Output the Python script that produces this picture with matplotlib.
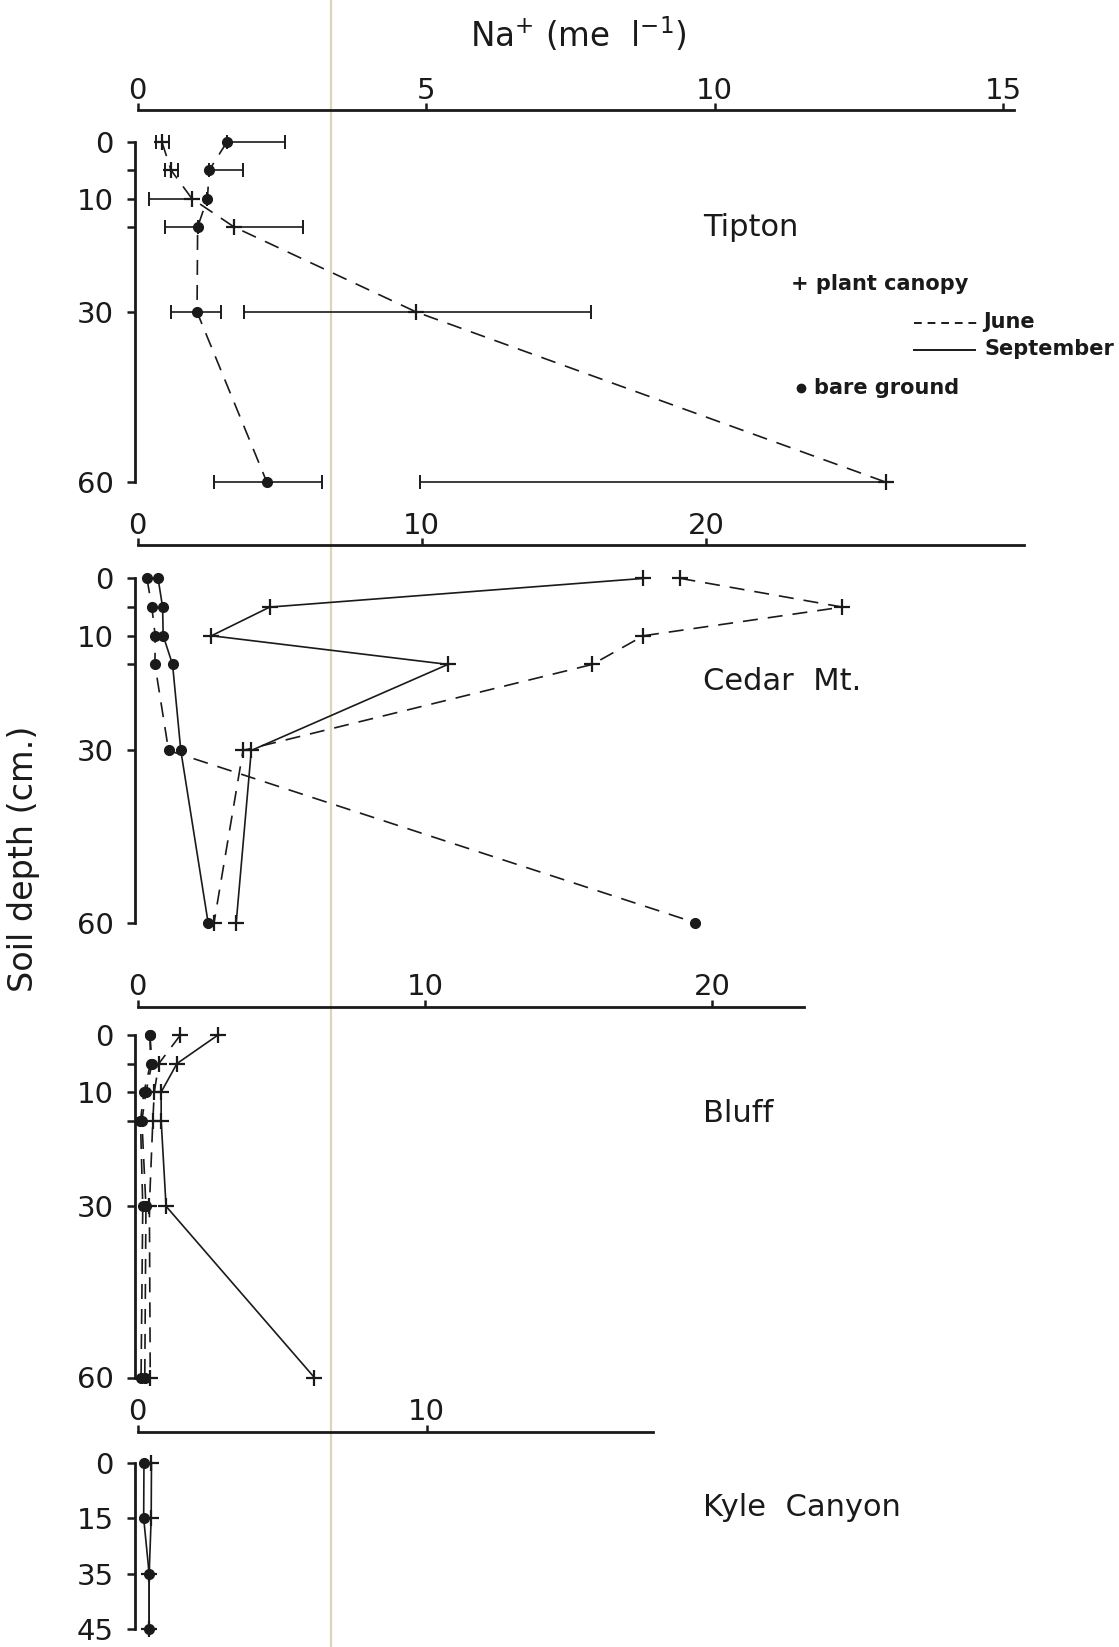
import numpy as np
import matplotlib
matplotlib.use('Agg')
import matplotlib.pyplot as plt

plt.rcParams['font.family'] = ['DejaVu Sans']
plt.rcParams['mathtext.default'] = 'regular'

W, H = 1119, 1647

# soil depths (cm)
depth = [0, 5, 10, 15, 30, 60]
kyle_depth = [0, 15, 35, 45]

# Tipton, June only (with error bars)
tip_canopy = [0.42, 0.58, 0.94, 1.67, 4.83, 12.97]
tip_canopy_lo = [0.10, 0.10, 0.74, 0.0, 2.99, 8.07]
tip_canopy_hi = [0.12, 0.12, 0.0, 1.19, 3.03, 0.0]
tip_bare = [1.55, 1.24, 1.21, 1.04, 1.03, 2.24]
tip_bare_lo = [0.0, 0.0, 0.0, 0.56, 0.45, 0.91]
tip_bare_hi = [1.0, 0.58, 0.0, 0.0, 0.42, 0.95]

# Cedar Mt.
ced_canopy_jun = [19.1, 24.8, 17.8, 16.0, 3.71, 2.69]
ced_canopy_sep = [17.8, 4.65, 2.6, 10.92, 4.0, 3.47]
ced_bare_jun = [0.33, 0.50, 0.62, 0.61, 1.09, 19.6]
ced_bare_sep = [0.72, 0.88, 0.90, 1.23, 1.52, 2.48]

# Bluff
blu_canopy_jun = [1.49, 0.74, 0.58, 0.53, 0.41, 0.44]
blu_canopy_sep = [2.8, 1.37, 0.82, 0.82, 0.99, 6.15]
blu_bare_jun = [0.43, 0.50, 0.29, 0.15, 0.29, 0.25]
blu_bare_sep = [0.43, 0.45, 0.22, 0.10, 0.18, 0.12]

# Kyle Canyon
kyl_canopy = [0.48, 0.47, 0.40, 0.40]
kyl_bare = [0.22, 0.21, 0.40, 0.40]

SPINE_X = 134.5
X0 = 137.6
JUNE = (0, (9, 6))
INK = '#1a1a1a'

fig = plt.figure(figsize=(W / 100, H / 100), dpi=100)

# backdrop: faint scan line and free text
ov = fig.add_axes([0, 0, 1, 1], zorder=0)
ov.set_xlim(0, W)
ov.set_ylim(H, 0)
ov.axis('off')
ov.plot([331, 331], [0, H], color='#ddd4bc', lw=1.6)


def make_ax(spine_y, d0_px, dmax_px, dmax, unit, x_end, xticks, yticks, ylabels):
    per = (dmax_px - d0_px) / dmax
    bottom_px = dmax_px + 8
    right_px = X0 + x_end * unit
    ax = fig.add_axes([SPINE_X / W, 1 - bottom_px / H,
                       (right_px - SPINE_X) / W, (bottom_px - spine_y) / H], zorder=2)
    ax.patch.set_alpha(0)
    ax.set_xlim((SPINE_X - X0) / unit, x_end)
    ax.set_ylim(dmax + 8 / per, -(d0_px - spine_y) / per)
    ax.spines['right'].set_visible(False)
    ax.spines['bottom'].set_visible(False)
    for s in ('top', 'left'):
        ax.spines[s].set_linewidth(2.0)
        ax.spines[s].set_color(INK)
    ax.spines['left'].set_bounds(0, dmax)
    ax.spines['top'].set_bounds(0, x_end)
    ax.xaxis.tick_top()
    ax.set_xticks(xticks)
    ax.set_xticklabels([str(t) for t in xticks])
    ax.set_yticks(yticks)
    ax.set_yticklabels(ylabels)
    ax.tick_params(axis='x', direction='out', length=5, width=1.8, pad=-1,
                   labelsize=21, colors=INK)
    ax.tick_params(axis='y', direction='out', length=6, width=1.8, pad=9,
                   labelsize=21, colors=INK)
    return ax


def canopy(ax, x, y, ls):
    ax.plot(x, y, ls=ls, color=INK, lw=1.2, marker='+', ms=11, mew=1.6,
            clip_on=False, zorder=3)


def bare(ax, x, y, ls):
    ax.plot(x, y, ls=ls, color=INK, lw=1.2, marker='o', ms=7,
            clip_on=False, zorder=3)


dticks = [0, 5, 10, 15, 30, 60]
dlabels = ['0', '', '10', '', '30', '60']

# Tipton
ax1 = make_ax(110.3, 141.8, 482.3, 60, 57.72, 15.18, [0, 5, 10, 15], dticks, dlabels)
canopy(ax1, tip_canopy, depth, JUNE)
bare(ax1, tip_bare, depth, JUNE)
ax1.errorbar(tip_canopy, depth, xerr=[tip_canopy_lo, tip_canopy_hi], fmt='none',
             ecolor=INK, elinewidth=1.2, capsize=5, capthick=1.4, clip_on=False)
ax1.errorbar(tip_bare, depth, xerr=[tip_bare_lo, tip_bare_hi], fmt='none',
             ecolor=INK, elinewidth=1.2, capsize=5, capthick=1.4, clip_on=False)

# Cedar Mt.
ax2 = make_ax(545.3, 578.4, 922.5, 60, 28.42, 31.2, [0, 10, 20], dticks, dlabels)
canopy(ax2, ced_canopy_jun, depth, JUNE)
canopy(ax2, ced_canopy_sep, depth, '-')
bare(ax2, ced_bare_jun, depth, JUNE)
bare(ax2, ced_bare_sep, depth, '-')

# Bluff
ax3 = make_ax(1006.6, 1035.0, 1377.5, 60, 28.74, 23.2, [0, 10, 20], dticks, dlabels)
canopy(ax3, blu_canopy_jun, depth, JUNE)
canopy(ax3, blu_canopy_sep, depth, '-')
bare(ax3, blu_bare_jun, depth, JUNE)
bare(ax3, blu_bare_sep, depth, JUNE)

# Kyle Canyon (depths drawn at even spacing)
kpos = list(range(len(kyle_depth)))
ax4 = make_ax(1432.0, 1462.7, 1629.3, 3, 28.9, 17.85, [0, 10], kpos,
              [str(d) for d in kyle_depth])
canopy(ax4, kyl_canopy, kpos, '-')
bare(ax4, kyl_bare, kpos, '-')

# titles and labels
ov.text(578, 35, 'Na$^{+}$ (me  l$^{-1}$)', fontsize=23.5, ha='center', va='center',
        color=INK)
ov.text(24, 859, 'Soil depth (cm.)', fontsize=24, rotation=90, ha='center',
        va='center', color=INK)
for name, yc in [('Tipton', 227), ('Cedar  Mt.', 681), ('Bluff', 1114),
                 ('Kyle  Canyon', 1507)]:
    ov.text(703, yc, name, fontsize=22, ha='left', va='center', color=INK)

# legend
ov.text(791, 284, '+ plant canopy', fontsize=15, fontweight='bold', ha='left',
        va='center', color=INK)
ov.plot([914, 979], [323, 323], color=INK, lw=1.4, ls=(0, (4, 3)))
ov.text(983, 322, 'June', fontsize=15, fontweight='bold', ha='left', va='center',
        color=INK)
ov.plot([914, 975], [350, 350], color=INK, lw=1.4)
ov.text(985, 349, 'September', fontsize=15, fontweight='bold', ha='left',
        va='center', color=INK)
ov.plot([801], [388], marker='o', ms=6, color=INK)
ov.text(814, 388, 'bare ground', fontsize=15, fontweight='bold', ha='left',
        va='center', color=INK)

fig.savefig('out.png', dpi=100)
